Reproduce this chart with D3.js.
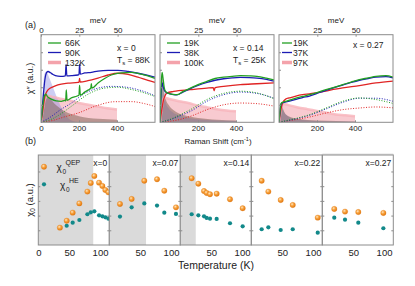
<!DOCTYPE html>
<html>
<head>
<meta charset="utf-8">
<script src="https://cdn.jsdelivr.net/npm/d3@7"></script>
<style>
  body { margin: 0; background: #fff; }
  text { font-family: "Liberation Sans", Arial, sans-serif; fill: #222; }
</style>
</head>
<body>
<svg id="fig" width="415" height="286"></svg>
<script>
// ---------- panel (a) data: Raman spectra, [shift cm-1, chi'' a.u.] ----------
var dopingA = ["x = 0", "x = 0.14", "x = 0.27"];
var tsA = ["88K", "25K", null];
var tempsA = [["66K", "90K", "132K"], ["19K", "38K", "100K"], ["19K", "37K", "97K"]];

// x = 0
var spec0Green = [[0,0],[10,0.2],[18,0.3],[25,0.32],[35,0.29],[54,0.265],[80,0.245],[107,0.24],[125,0.25],[130,0.245],[133,0.37],[137,0.25],[160,0.278],[190,0.3],[200,0.31],[203,0.42],[207,0.31],[230,0.345],[250,0.37],[262,0.39],[265,0.44],[268,0.39],[300,0.449],[335,0.5],[370,0.54],[423,0.565],[475,0.57],[528,0.55],[600,0.5]];
var spec0Blue = [[0,0],[10,0.25],[20,0.48],[30,0.57],[37,0.58],[50,0.565],[63,0.545],[89,0.527],[116,0.525],[128,0.53],[132,0.66],[136,0.53],[160,0.532],[195,0.54],[200,0.545],[203,0.66],[207,0.55],[230,0.563],[265,0.57],[300,0.585],[353,0.593],[405,0.593],[458,0.58],[510,0.56],[563,0.535],[600,0.515]];
var spec0Red = [[0,0],[10,0.14],[19,0.28],[28,0.34],[37,0.37],[63,0.405],[89,0.428],[142,0.447],[195,0.455],[200,0.46],[203,0.5],[206,0.46],[247,0.475],[300,0.505],[353,0.54],[405,0.56],[458,0.548],[510,0.515],[563,0.478],[600,0.455]];
var he0Green = [[0,0],[60,0.04],[100,0.09],[160,0.183],[247,0.32],[335,0.39],[405,0.4],[475,0.375],[545,0.335],[600,0.295]];
var he0Blue = [[0,0],[50,0.06],[100,0.14],[160,0.22],[230,0.33],[300,0.39],[370,0.41],[440,0.403],[510,0.373],[580,0.32],[600,0.3]];
var he0Red = [[0,0],[60,0.02],[120,0.06],[195,0.106],[300,0.195],[388,0.235],[475,0.236],[545,0.213],[600,0.18]];
var qep0Green = [[0,0],[8,0.2],[18,0.31],[25,0.33],[40,0.3],[60,0.24],[100,0.16],[150,0.1],[200,0.07],[300,0.04],[400,0.03]];
var qep0Blue = [[0,0],[8,0.3],[18,0.55],[28,0.58],[45,0.5],[70,0.36],[100,0.2],[130,0.08],[160,0.02],[200,0]];
var qep0Red = [[0,0],[10,0.15],[20,0.26],[35,0.3],[60,0.29],[100,0.27],[150,0.25],[200,0.22],[250,0.2],[300,0.18],[350,0.16],[400,0.145]];

// x = 0.14
var spec14Green = [[0,0],[4,0.3],[8,0.5],[11,0.57],[15,0.52],[22,0.4],[30,0.35],[45,0.33],[70,0.318],[89,0.315],[120,0.35],[160,0.39],[200,0.43],[247,0.467],[290,0.5],[335,0.515],[380,0.525],[423,0.532],[470,0.53],[510,0.525],[560,0.505],[600,0.485]];
var spec14Blue = [[0,0],[4,0.25],[8,0.4],[11,0.45],[15,0.42],[22,0.37],[30,0.345],[45,0.33],[70,0.315],[89,0.312],[120,0.345],[160,0.385],[200,0.42],[247,0.455],[290,0.48],[335,0.497],[380,0.507],[423,0.512],[470,0.51],[510,0.505],[560,0.49],[600,0.47]];
var spec14Red = [[0,0],[10,0.15],[19,0.26],[28,0.31],[37,0.335],[72,0.352],[160,0.372],[247,0.39],[280,0.395],[285,0.36],[290,0.397],[335,0.41],[423,0.43],[510,0.44],[600,0.45]];
var he14Green = [[0,0],[60,0.04],[100,0.08],[160,0.144],[247,0.26],[335,0.33],[423,0.355],[510,0.335],[600,0.27]];
var he14Blue = [[0,0],[60,0.035],[100,0.07],[160,0.125],[247,0.24],[335,0.315],[423,0.345],[510,0.33],[600,0.275]];
var he14Red = [[0,0],[100,0.03],[160,0.068],[247,0.144],[335,0.2],[423,0.22],[510,0.213],[600,0.185]];
var qep14Green = [[0,0],[4,0.3],[8,0.5],[11,0.56],[15,0.5],[22,0.36],[30,0.27],[45,0.2],[70,0.14],[100,0.1],[150,0.07],[200,0.05],[300,0.03],[400,0.02]];
var qep14Blue = [[0,0],[4,0.25],[8,0.4],[11,0.45],[15,0.4],[22,0.3],[30,0.22],[45,0.16],[70,0.11],[100,0.08],[150,0.05],[200,0.035],[300,0.02],[400,0.015]];
var qep14Red = [[0,0],[8,0.14],[15,0.24],[22,0.28],[35,0.275],[60,0.26],[100,0.24],[150,0.22],[200,0.19],[250,0.17],[300,0.15],[350,0.135],[400,0.125]];

// x = 0.27
var spec27Green = [[0,0],[5,0.12],[10,0.21],[15,0.225],[25,0.232],[37,0.24],[60,0.255],[89,0.275],[124,0.295],[160,0.315],[200,0.34],[247,0.372],[290,0.4],[335,0.43],[380,0.46],[423,0.487],[470,0.507],[510,0.525],[563,0.532],[600,0.515]];
var spec27Blue = [[0,0],[5,0.12],[10,0.2],[15,0.22],[25,0.225],[37,0.232],[60,0.245],[89,0.262],[124,0.283],[160,0.3],[200,0.33],[247,0.365],[290,0.395],[335,0.425],[380,0.455],[423,0.48],[470,0.5],[510,0.515],[563,0.522],[600,0.508]];
var spec27Red = [[0,0],[8,0.12],[19,0.22],[35,0.265],[54,0.278],[89,0.3],[124,0.316],[160,0.325],[195,0.335],[265,0.365],[335,0.392],[423,0.418],[510,0.449],[600,0.47]];
var he27Green = [[0,0],[60,0.03],[100,0.05],[160,0.087],[247,0.163],[335,0.24],[423,0.278],[510,0.26],[600,0.215]];
var he27Blue = [[0,0],[60,0.025],[100,0.045],[160,0.08],[247,0.152],[335,0.228],[423,0.275],[510,0.275],[600,0.24]];
var he27Red = [[0,0],[100,0.035],[160,0.06],[247,0.106],[335,0.144],[423,0.163],[510,0.175],[600,0.165]];
var qep27Green = [[0,0],[5,0.12],[10,0.21],[15,0.2],[22,0.15],[30,0.11],[50,0.07],[100,0.04],[200,0.02],[400,0.01]];
var qep27Blue = [[0,0],[5,0.11],[10,0.19],[15,0.18],[25,0.12],[40,0.08],[80,0.04],[200,0.015],[400,0.005]];
var qep27Red = [[0,0],[8,0.12],[19,0.21],[35,0.205],[60,0.19],[100,0.17],[150,0.15],[200,0.13],[250,0.11],[300,0.09],[350,0.08],[400,0.068]];

var specA = [[spec0Green, spec0Blue, spec0Red], [spec14Green, spec14Blue, spec14Red], [spec27Green, spec27Blue, spec27Red]];
var heA = [[he0Green, he0Blue, he0Red], [he14Green, he14Blue, he14Red], [he27Green, he27Blue, he27Red]];
var qepA = [[qep0Green, qep0Blue, qep0Red], [qep14Green, qep14Blue, qep14Red], [qep27Green, qep27Blue, qep27Red]];

var shiftTicks = [[0, 200, 400], [200, 400], [200, 400]];
var mevTicks = [[0, 25, 50], [25, 50], [25, 50]];

// ---------- panel (b) data: chi0 vs temperature ----------
var dopingB = ["x=0", "x=0.07", "x=0.14", "x=0.22", "x=0.27"];
var tsB = [89, 59.5, 25, null, null];
var qepT0 = [35, 46, 55.7, 66.5, 79.5, 85, 90.8, 98.4, 103.8, 108.6, 113.5];
var qepV0 = [1.18, 1.65, 2.2, 2.83, 3.63, 4.22, 4.69, 4.24, 4.01, 3.74, 3.58];
var heT0 = [46, 55.7, 66.5, 79.5, 85, 90.8, 98.4, 103.8, 108.6, 113.5];
var heV0 = [1.31, 1.52, 1.7, 2.09, 2.22, 2.29, 2.02, 1.95, 1.88, 1.79];
var t07 = [17.3, 36.2, 56.7, 77.3, 89.1, 108];
var qepV07 = [2.79, 3.13, 4.37, 4.47, 3.69, 2.56];
var heV07 = [1.93, 2.56, 2.83, 2.68, 2.2, 2.11];
var t14 = [18.4, 29.2, 38.4, 42.7, 48.1, 58.9, 80.5, 101];
var qepV14 = [4.54, 4.17, 3.67, 3.54, 3.45, 3.49, 3.11, 2.5];
var heV14 = [2.09, 2.02, 1.95, 1.84, 1.79, 1.77, 1.48, 1.27];
var t22 = [16.8, 27.6, 47.6, 67.1, 107.6];
var qepV22 = [4.37, 3.63, 3.06, 2.72, 1.86];
var heV22 = [1.07, 1.2, 1.02, 1.07, 0.84];
var t27 = [19.4, 36.8, 58.3, 98.9];
var qepV27 = [2.45, 2.27, 2.24, 2.18];
var heV27 = [1.86, 1.72, 1.52, 1.14];

var qepB = [[qepT0, qepV0], [t07, qepV07], [t14, qepV14], [t22, qepV22], [t27, qepV27]];
var heB = [[heT0, heV0], [t07, heV07], [t14, heV14], [t22, heV22], [t27, heV27]];
var tempTicks = [[0, 50, 100], [50, 100], [50, 100], [50, 100], [50, 100]];

// ---------- drawing ----------
var svg = d3.select("#fig");
var lineColors = ["#22a022", "#1c1cb4", "#e02424"];
var fillColors = ["#7a5e50", "#9090e4", "#f4a6b0"];
var fillOpacity = [0.5, 0.45, 0.6];
var CM_PER_MEV = 8.0655;

var defs = svg.append("defs");
var grad = defs.append("radialGradient").attr("id", "orangeBall")
  .attr("cx", "38%").attr("cy", "35%").attr("r", "65%");
grad.append("stop").attr("offset", "0%").attr("stop-color", "#ffe6c2");
grad.append("stop").attr("offset", "45%").attr("stop-color", "#f8a440");
grad.append("stop").attr("offset", "100%").attr("stop-color", "#e2780f");

// panel (a)
var aLeft = [41, 160, 279], aWidth = 114, aTop = 34.7, aBottom = 122.3;

aLeft.forEach(function(left, p) {
  var x = d3.scaleLinear().domain([0, 600]).range([left, left + aWidth]);
  var xm = d3.scaleLinear().domain([0, 600 / CM_PER_MEV]).range([left, left + aWidth]);
  var y = d3.scaleLinear().domain([0, 1]).range([aBottom, aTop]);
  var g = svg.append("g");

  g.append("defs").append("clipPath").attr("id", "clipA" + p)
    .append("rect").attr("x", left).attr("y", aTop).attr("width", aWidth).attr("height", aBottom - aTop);
  var plot = g.append("g").attr("clip-path", "url(#clipA" + p + ")");

  var area = d3.area().x(function(d) { return x(d[0]); })
    .y0(y(0)).y1(function(d) { return y(d[1]); }).curve(d3.curveMonotoneX);
  var line = d3.line().x(function(d) { return x(d[0]); })
    .y(function(d) { return y(d[1]); }).curve(d3.curveMonotoneX);

  // QEP fills (red first, then blue, then green)
  [2, 1, 0].forEach(function(k) {
    plot.append("path").attr("d", area(qepA[p][k]))
      .attr("fill", fillColors[k]).attr("fill-opacity", fillOpacity[k])
      .attr("stroke", "none");
  });
  plot.append("path").attr("d", line(qepA[p][2]))
    .attr("fill", "none").attr("stroke", "#f7b3ba").attr("stroke-width", 2.5).attr("stroke-opacity", 0.8);
  // HE components dotted
  [2, 1, 0].forEach(function(k) {
    plot.append("path").attr("d", line(heA[p][k]))
      .attr("fill", "none").attr("stroke", lineColors[k])
      .attr("stroke-width", 1).attr("stroke-dasharray", "1,1.6");
  });
  // spectra
  [2, 1, 0].forEach(function(k) {
    plot.append("path").attr("d", line(specA[p][k]))
      .attr("fill", "none").attr("stroke", lineColors[k]).attr("stroke-width", 1.3);
  });

  // frame
  g.append("rect").attr("x", left).attr("y", aTop).attr("width", aWidth).attr("height", aBottom - aTop)
    .attr("fill", "none").attr("stroke", "#8c8c8c").attr("stroke-width", 1);

  // bottom axis
  var bAx = g.append("g").attr("transform", "translate(0," + aBottom + ")")
    .call(d3.axisBottom(x).tickValues(shiftTicks[p]).tickSize(-2).tickPadding(3));
  bAx.select(".domain").remove();
  bAx.selectAll("line").attr("stroke", "#8c8c8c");
  bAx.selectAll("text").attr("font-size", 8).attr("fill", "#222")
    .attr("font-family", "Liberation Sans, Arial, sans-serif");

  // top axis in meV
  var tAx = g.append("g").attr("transform", "translate(0," + aTop + ")")
    .call(d3.axisTop(xm).tickValues(mevTicks[p]).tickSize(-2).tickPadding(2));
  tAx.select(".domain").remove();
  tAx.selectAll("line").attr("stroke", "#8c8c8c");
  tAx.selectAll("text").attr("font-size", 8).attr("fill", "#222")
    .attr("font-family", "Liberation Sans, Arial, sans-serif");
  g.append("text").attr("x", left + aWidth / 2).attr("y", 22.5).attr("text-anchor", "middle")
    .attr("font-size", 8).text("meV");

  // left ticks
  var lAx = g.append("g").attr("transform", "translate(" + left + ",0)")
    .call(d3.axisLeft(y).tickValues([0.2, 0.4, 0.6, 0.8]).tickSize(-2).tickFormat(""));
  lAx.select(".domain").remove();
  lAx.selectAll("line").attr("stroke", "#8c8c8c");

  // legend
  var legX = p === 2 ? left + 3 : left + 7;
  var legLen = p === 2 ? 10 : 13;
  var rows = [43, 52.5, 62.5];
  tempsA[p].forEach(function(t, k) {
    g.append("line").attr("x1", legX).attr("x2", legX + legLen).attr("y1", rows[k]).attr("y2", rows[k])
      .attr("stroke", k === 2 ? "#f4a3ab" : lineColors[k]).attr("stroke-width", k === 2 ? 3.5 : 1.3);
    g.append("text").attr("x", legX + legLen + (p === 2 ? 1 : 4)).attr("y", rows[k] + 3)
      .attr("font-size", 8.5).text(t);
  });

  // doping label
  var labX = p === 0 ? left + 76 : (p === 1 ? left + 73 : left + 74);
  g.append("text").attr("x", labX).attr("y", p === 2 ? 48 : 50.5).attr("font-size", 8.5).text(dopingA[p]);
  if (tsA[p]) {
    var ts = g.append("text").attr("x", labX).attr("y", 62.5).attr("font-size", 8.5);
    ts.append("tspan").text("T");
    ts.append("tspan").attr("font-size", 6).attr("dy", 2).text("s");
    ts.append("tspan").attr("dy", -2).text(" = " + tsA[p]);
  }
});

svg.append("text").attr("x", 25).attr("y", 28).attr("font-size", 9).text("(a)");
svg.append("text").attr("transform", "translate(33,78.5) rotate(-90)").attr("text-anchor", "middle")
  .attr("font-size", 9).text("\u03c7\u2033 (a.u.)");
svg.append("text").attr("x", 218).attr("y", 144).attr("text-anchor", "middle").attr("font-size", 8)
  .html("Raman Shift (cm<tspan font-size='5.5' dy='-3'>-1</tspan><tspan dy='3'>)</tspan>");

// panel (b)
var bLeft0 = 38.3, bWidth = 71, bTop = 155, bBottom = 245;
var yB = d3.scaleLinear().domain([0, 6.12]).range([bBottom, bTop]);

dopingB.forEach(function(lab, p) {
  var left = bLeft0 + bWidth * p;
  var x = d3.scaleLinear().domain([0, 115]).range([left, left + bWidth]);
  var g = svg.append("g");

  if (tsB[p]) {
    g.append("rect").attr("x", left).attr("y", bTop).attr("width", x(tsB[p]) - left)
      .attr("height", bBottom - bTop).attr("fill", "#dadada");
  }
  if (p === 4) {
    g.append("rect").attr("x", left).attr("y", bTop - 1.5).attr("width", bWidth).attr("height", 1.5)
      .attr("fill", "#e2e2e2");
  }
  g.append("rect").attr("x", left).attr("y", bTop).attr("width", bWidth).attr("height", bBottom - bTop)
    .attr("fill", "none").attr("stroke", "#8c8c8c").attr("stroke-width", 1);

  var bAx = g.append("g").attr("transform", "translate(0," + bBottom + ")")
    .call(d3.axisBottom(x).tickValues(tempTicks[p]).tickSize(0).tickPadding(4));
  bAx.select(".domain").remove();
  bAx.selectAll("text").attr("font-size", 9.5).attr("fill", "#222")
    .attr("font-family", "Liberation Sans, Arial, sans-serif");

  [left, left + bWidth].forEach(function(ex, side) {
    var ax = g.append("g").attr("transform", "translate(" + ex + ",0)")
      .call((side ? d3.axisRight(yB) : d3.axisLeft(yB)).tickValues([1, 2, 3, 4, 5]).tickSize(-2).tickFormat(""));
    ax.select(".domain").remove();
    ax.selectAll("line").attr("stroke", "#8c8c8c");
  });

  g.append("text").attr("x", left + bWidth - 2).attr("y", 165.5).attr("text-anchor", "end")
    .attr("font-size", 8.5).text(lab);

  var qep = qepB[p], he = heB[p];
  g.selectAll("circle.he").data(he[0]).enter().append("circle").attr("class", "he")
    .attr("cx", function(d) { return x(d); })
    .attr("cy", function(d, i) { return yB(he[1][i]); })
    .attr("r", 2.1).attr("fill", "#12898a");
  g.selectAll("circle.qep").data(qep[0]).enter().append("circle").attr("class", "qep")
    .attr("cx", function(d) { return x(d); })
    .attr("cy", function(d, i) { return yB(qep[1][i]); })
    .attr("r", 2.7).attr("fill", "url(#orangeBall)").attr("stroke", "#e07a16").attr("stroke-width", 0.3);
});

// legend (b)
svg.append("circle").attr("cx", 44).attr("cy", 166.7).attr("r", 2.7)
  .attr("fill", "url(#orangeBall)").attr("stroke", "#e07a16").attr("stroke-width", 0.3);
svg.append("circle").attr("cx", 44).attr("cy", 184.3).attr("r", 2.1).attr("fill", "#12898a");
svg.append("text").attr("x", 56.5).attr("y", 170.5).attr("font-size", 10).text("\u03c7");
svg.append("text").attr("x", 62.5).attr("y", 173.5).attr("font-size", 6.5).text("0");
svg.append("text").attr("x", 65.5).attr("y", 165).attr("font-size", 7).text("QEP");
svg.append("text").attr("x", 60).attr("y", 188.5).attr("font-size", 10).text("\u03c7");
svg.append("text").attr("x", 66).attr("y", 191.5).attr("font-size", 6.5).text("0");
svg.append("text").attr("x", 69).attr("y", 183).attr("font-size", 7).text("HE");

svg.append("text").attr("x", 25).attr("y", 143.5).attr("font-size", 9).text("(b)");
var yl = svg.append("text").attr("transform", "translate(33,200) rotate(-90)").attr("text-anchor", "middle")
  .attr("font-size", 9.5);
yl.append("tspan").text("\u03c7");
yl.append("tspan").attr("font-size", 6.5).attr("dy", 2).text("0");
yl.append("tspan").attr("dy", -2).text(" (a.u.)");
svg.append("text").attr("x", 216).attr("y", 269).attr("text-anchor", "middle").attr("font-size", 10.5)
  .text("Temperature (K)");
</script>
</body>
</html>
